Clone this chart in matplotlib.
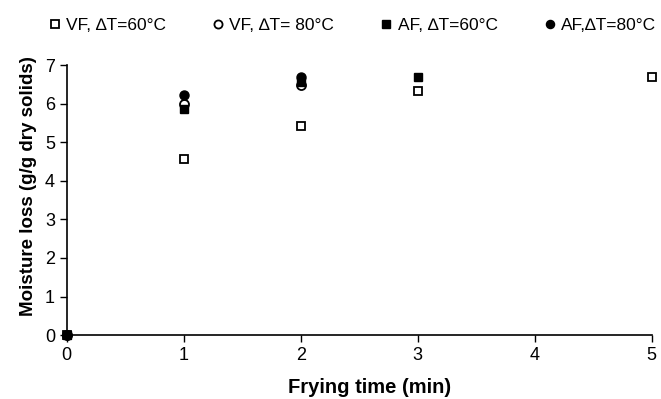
import matplotlib
matplotlib.use('Agg')
import matplotlib.pyplot as plt

plt.rcParams['font.family'] = ['Liberation Sans', 'DejaVu Sans']

# frying time (min) and moisture loss (g/g dry solids)
t_vf60 = [0, 1, 2, 3, 5]
m_vf60 = [0, 4.56, 5.41, 6.33, 6.68]
t_vf80 = [0, 1, 2]
m_vf80 = [0, 5.98, 6.48]
t_af60 = [0, 1, 2, 3]
m_af60 = [0, 5.87, 6.57, 6.70]
t_af80 = [0, 1, 2]
m_af80 = [0, 6.23, 6.68]

labels = ['VF, \u2206T=60°C', 'VF, \u2206T= 80°C', 'AF, \u2206T=60°C', 'AF,\u2206T=80°C']

fig = plt.figure(figsize=(6.61, 3.99), dpi=100)
ax = fig.add_axes([0.101, 0.160, 0.885, 0.677])

ax.plot(t_vf60, m_vf60, 's', mfc='white', mec='black', mew=1.3, ms=6.3, ls='none', label=labels[0], clip_on=False)
ax.plot(t_vf80, m_vf80, 'o', mfc='white', mec='black', mew=1.3, ms=6.5, ls='none', label=labels[1], clip_on=False)
ax.plot(t_af60, m_af60, 's', mfc='black', mec='black', ms=6.3, ls='none', label=labels[2], clip_on=False)
ax.plot(t_af80, m_af80, 'o', mfc='black', mec='black', ms=6.5, ls='none', label=labels[3], clip_on=False)

ax.set_xlim(0, 5)
ax.set_ylim(0, 7)
ax.set_xticks(range(6))
ax.set_yticks(range(8))
ax.spines['top'].set_visible(False)
ax.spines['right'].set_visible(False)
ax.spines['left'].set_linewidth(1.2)
ax.spines['bottom'].set_linewidth(1.2)
ax.tick_params(direction='out', length=5, width=1, labelsize=13)
ax.set_xlabel('Frying time (min)', fontsize=14.5, fontweight='bold')
ax.set_ylabel('Moisture loss (g/g dry solids)', fontsize=13.5, fontweight='bold')
ax.xaxis.set_label_coords(0.517, -0.16)
ax.yaxis.set_label_coords(-0.051, 0.552)

fig.legend(loc='upper center', bbox_to_anchor=(0.53, 0.995), ncol=4, frameon=False,
           fontsize=12.5, handletextpad=0.05, columnspacing=2.4, markerscale=0.9, handlelength=1.2)

fig.savefig('out.png', dpi=100)
